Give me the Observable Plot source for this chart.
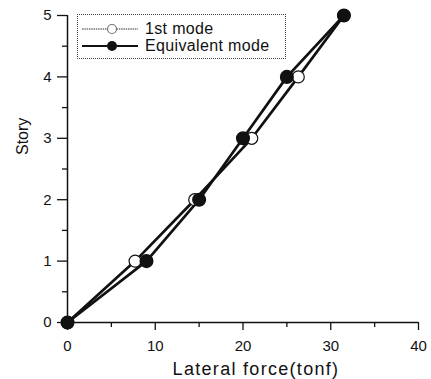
<!DOCTYPE html>
<html>
<head>
<meta charset="utf-8">
<script src="https://cdn.jsdelivr.net/npm/d3@7"></script>
<script src="https://cdn.jsdelivr.net/npm/@observablehq/plot@0.6"></script>
<style>
  html, body { margin: 0; padding: 0; background: #fff; }
  #wrap { position: relative; width: 431px; height: 379px; font-family: "Liberation Sans", Arial, sans-serif; }
  #wrap svg { font-family: "Liberation Sans", Arial, sans-serif; }
  #legend { position: absolute; left: 77px; top: 14px; width: 207px; height: 43px; border: 1px dotted #444; background: #fff; }
  #legend .row { position: absolute; left: 0; height: 18px; display: flex; align-items: center; font-size: 16px; color: #111; letter-spacing: 0.35px; }
  #legend svg { margin-left: 4px; margin-right: 7px; }
</style>
</head>
<body>
<div id="wrap"></div>
<script>
const stories = [0, 1, 2, 3, 4, 5];
const firstMode = [0, 7.7, 14.5, 21.0, 26.3, 31.5];
const equivalentMode = [0, 9.0, 15.0, 20.0, 25.0, 31.5];
const xTicks = [0, 10, 20, 30, 40];
const xMinor = [5, 15, 25, 35];
const yTicks = [0, 1, 2, 3, 4, 5];
const yMinor = [0.5, 1.5, 2.5, 3.5, 4.5];
const seriesNames = ["1st mode", "Equivalent mode"];
const xLabel = "Lateral force(tonf)";
const yLabel = "Story";

const first = stories.map((s, i) => ({story: s, force: firstMode[i]}));
const equiv = stories.map((s, i) => ({story: s, force: equivalentMode[i]}));

const chart = Plot.plot({
  width: 431,
  height: 379,
  marginLeft: 67,
  marginRight: 13,
  marginTop: 15,
  marginBottom: 57,
  x: {domain: [0, 40]},
  y: {domain: [0, 5]},
  style: {fontFamily: "Liberation Sans, Arial, sans-serif", color: "#111", overflow: "visible"},
  marks: [
    Plot.axisY({ticks: yMinor, tickSize: 5, text: null, label: null, stroke: "#111", strokeWidth: 1.3}),
    Plot.axisY({ticks: yTicks, tickSize: 10, tickPadding: 6, tickFormat: d => String(d), fontSize: 15, label: null, stroke: "#111", strokeWidth: 1.3}),
    Plot.axisX({ticks: xMinor, tickSize: 5, text: null, label: null, stroke: "#111", strokeWidth: 1.3}),
    Plot.axisX({ticks: xTicks, tickSize: 8, tickPadding: 10, tickFormat: d => String(d), fontSize: 15, label: null, stroke: "#111", strokeWidth: 1.3}),
    Plot.text([xLabel], {frameAnchor: "bottom", lineAnchor: "bottom", dx: 13, dy: 52, fontSize: 18, fill: "#111"}),
    Plot.text([yLabel], {frameAnchor: "left", rotate: -90, dx: -45, dy: -14, fontSize: 16, fill: "#111"}),
    Plot.ruleX([0], {y1: 0, y2: 5, stroke: "#111", strokeWidth: 1.5}),
    Plot.ruleY([0], {x1: 0, x2: 40, stroke: "#111", strokeWidth: 1.5}),
    Plot.line(first, {x: "force", y: "story", stroke: "#111", strokeWidth: 2.7}),
    Plot.line(equiv, {x: "force", y: "story", stroke: "#111", strokeWidth: 2.7}),
    Plot.dot(first, {x: "force", y: "story", r: 6, fill: "white", stroke: "#111", strokeWidth: 1.2}),
    Plot.dot(equiv, {x: "force", y: "story", r: 6.3, fill: "#111", stroke: "#111"})
  ]
});

const wrap = document.getElementById("wrap");
wrap.appendChild(chart);
chart.querySelectorAll("text").forEach(t => { if (t.textContent === xLabel) t.style.letterSpacing = "1.3px"; });

const legend = document.createElement("div");
legend.id = "legend";
legend.innerHTML = `
  <div class="row" style="top:5px">
    <svg width="56" height="14"><line x1="0" y1="7" x2="56" y2="7" stroke="#777" stroke-width="1.6" stroke-dasharray="1.5 0.8"/><circle cx="30" cy="7" r="4.5" fill="white" stroke="#777" stroke-width="1.2"/></svg>${seriesNames[0]}
  </div>
  <div class="row" style="top:22px">
    <svg width="56" height="14"><line x1="0" y1="7" x2="56" y2="7" stroke="#111" stroke-width="2"/><circle cx="30" cy="7" r="5" fill="#111"/></svg>${seriesNames[1]}
  </div>`;
wrap.appendChild(legend);
</script>
</body>
</html>
